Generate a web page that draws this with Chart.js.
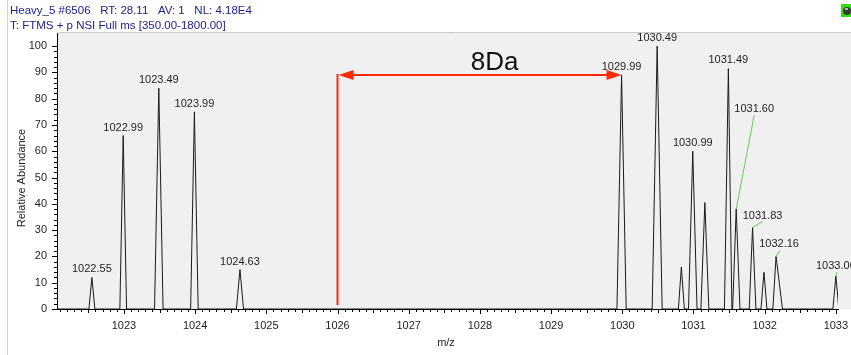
<!DOCTYPE html>
<html>
<head>
<meta charset="utf-8">
<title>Heavy_5 #6506</title>
<script src="https://cdn.jsdelivr.net/npm/chart.js@4.4.1/dist/chart.umd.min.js"></script>
<style>
  html, body { margin: 0; padding: 0; background: #ffffff; }
  canvas { display: block; }
</style>
</head>
<body>
<canvas id="spectrum" width="851" height="355"></canvas>
<script>
// Scan header text
const scanHeader = 'Heavy_5 #6506   RT: 28.11   AV: 1   NL: 4.18E4';
const scanFilter = 'T: FTMS + p NSI Full ms [350.00-1800.00]';

// Centroid of each profile peak (m/z) and its relative abundance (%)
const peakMz        = [1022.55, 1022.99, 1023.49, 1023.99, 1024.63, 1029.99, 1030.49, 1030.83, 1030.99, 1031.16, 1031.49, 1031.60, 1031.83, 1031.99, 1032.16, 1033.00];
const peakAbundance = [12, 66, 84, 75, 15, 89, 100, 16, 60, 40.5, 91.5, 38, 31, 14, 20, 12.5];
// Peak foot on each side of the centroid (m/z)
const peakFootLeft  = [0.042, 0.047, 0.060, 0.053, 0.050, 0.065, 0.070, 0.042, 0.060, 0.056, 0.055, 0.050, 0.047, 0.042, 0.045, 0.042];
const peakFootRight = [0.042, 0.047, 0.060, 0.053, 0.050, 0.065, 0.070, 0.042, 0.060, 0.056, 0.050, 0.053, 0.047, 0.042, 0.090, 0.042];

// Peaks that carry an m/z label
const labelledMz = [1022.55, 1022.99, 1023.49, 1023.99, 1024.63, 1029.99, 1030.49, 1030.99, 1031.49, 1031.60, 1031.83, 1032.16, 1033.00];

// Axes
const mzRange     = [1022.06, 1033.03];
const abundRange  = [0, 105];
const mzTicks     = [1023, 1024, 1025, 1026, 1027, 1028, 1029, 1030, 1031, 1032, 1033];
const abundTicks  = [0, 10, 20, 30, 40, 50, 60, 70, 80, 90, 100];

// Mass shift marker between the light and heavy envelopes
const shiftFromMz = 1026.00;
const shiftToMz   = 1029.99;
const shiftLevel  = 89;
const shiftFloor  = 1.5;
const shiftText   = '8Da';

// Label placement for the crowded peaks (pixel offsets of the label centre) and leader lines
const labelOffsets = {
  '1031.60': { dx: 18, dy: -92, leader: true },
  '1031.83': { dx: 10, dy: -4,  leader: true },
  '1032.16': { dx: 3,  dy: -4,  leader: true },
  '1033.00': { dx: 0,  dy: -2,  leader: true }
};

const FONT = '"Liberation Sans", Arial, sans-serif';
const INK = '#1e1e1e';

// Profile trace: baseline, then foot / apex / foot for every peak
const profile = [{ x: mzRange[0], y: 0 }];
peakMz.forEach((mz, i) => {
  profile.push({ x: mz - peakFootLeft[i], y: 0 });
  profile.push({ x: mz, y: peakAbundance[i] });
  profile.push({ x: mz + peakFootRight[i], y: 0 });
});
profile.push({ x: mzRange[1], y: 0 });

const panelPlugin = {
  id: 'panel',
  beforeDraw(chart) {
    const { ctx, chartArea } = chart;
    ctx.save();
    ctx.fillStyle = '#ffffff';
    ctx.fillRect(0, 0, chart.width, chart.height);
    // plot panel
    ctx.fillStyle = '#f0f0f0';
    ctx.beginPath();
    const l = chartArea.left, t = chartArea.top - 1;
    ctx.moveTo(l, chartArea.bottom);
    ctx.lineTo(l, t + 3);
    ctx.quadraticCurveTo(l, t, l + 3, t);
    ctx.lineTo(chart.width, t);
    ctx.lineTo(chart.width, chartArea.bottom);
    ctx.closePath();
    ctx.fill();
    ctx.strokeStyle = '#cacaca';
    ctx.lineWidth = 1;
    ctx.beginPath();
    ctx.moveTo(l + 0.5, t + 3);
    ctx.quadraticCurveTo(l + 0.5, t + 0.5, l + 3, t + 0.5);
    ctx.lineTo(chart.width, t + 0.5);
    ctx.stroke();
    // window frame on the left
    ctx.strokeStyle = '#d4d4d4';
    ctx.beginPath();
    ctx.moveTo(7.5, 0);
    ctx.lineTo(7.5, chart.height);
    ctx.stroke();
    // header
    ctx.fillStyle = '#22228c';
    ctx.font = '11.5px ' + FONT;
    ctx.textAlign = 'left';
    ctx.textBaseline = 'alphabetic';
    ctx.fillText(scanHeader, 10, 14);
    ctx.fillText(scanFilter, 10, 29);
    // toolbar glyph
    ctx.fillStyle = '#33dd11';
    ctx.fillRect(841, 4, 10, 13);
    ctx.fillStyle = '#3a3a3a';
    ctx.beginPath();
    ctx.arc(847, 11, 4, 0, Math.PI * 2);
    ctx.fill();
    ctx.fillStyle = '#bbbbbb';
    ctx.fillRect(845, 8, 3, 2);
    ctx.restore();
  }
};

const overlayPlugin = {
  id: 'overlay',
  afterDraw(chart) {
    const { ctx, chartArea } = chart;
    const xs = chart.scales.x, ys = chart.scales.y;
    ctx.save();

    // minor and major tick marks
    ctx.strokeStyle = '#000000';
    ctx.lineWidth = 1;
    ctx.beginPath();
    for (let k = Math.ceil(xs.min * 10); k <= Math.floor(xs.max * 10); k++) {
      const px = Math.round(xs.getPixelForValue(k / 10)) + 0.5;
      const len = k % 10 === 0 ? 5 : (k % 5 === 0 ? 4 : 3);
      ctx.moveTo(px, chartArea.bottom);
      ctx.lineTo(px, chartArea.bottom + len);
    }
    for (let v = 0; v <= 100; v += 2) {
      const py = Math.round(ys.getPixelForValue(v)) + 0.5;
      const len = v % 10 === 0 ? 5 : 3;
      ctx.moveTo(chartArea.left, py);
      ctx.lineTo(chartArea.left - len, py);
    }
    ctx.stroke();

    // axis titles
    ctx.fillStyle = INK;
    ctx.font = '11px ' + FONT;
    ctx.textAlign = 'center';
    ctx.textBaseline = 'middle';
    ctx.fillText('m/z', 446, 343);
    ctx.save();
    ctx.translate(22, 178);
    ctx.rotate(-Math.PI / 2);
    ctx.fillText('Relative Abundance', 0, 0);
    ctx.restore();

    // peak labels
    ctx.font = '11px ' + FONT;
    ctx.textBaseline = 'alphabetic';
    labelledMz.forEach(mz => {
      const i = peakMz.indexOf(mz);
      const text = mz.toFixed(2);
      const ax = xs.getPixelForValue(mz);
      const ay = ys.getPixelForValue(peakAbundance[i]);
      const off = labelOffsets[text] || { dx: 0, dy: 0 };
      const lx = ax + off.dx;
      const ly = ay - 5 + off.dy;
      if (off.leader) {
        ctx.strokeStyle = '#66cc55';
        ctx.lineWidth = 1;
        ctx.beginPath();
        ctx.moveTo(ax, ay);
        ctx.lineTo(lx + (off.dx > 5 ? 0 : 1), ly + 3);
        ctx.stroke();
      }
      ctx.fillStyle = INK;
      ctx.fillText(text, lx, ly);
    });

    // mass shift marker
    const x0 = xs.getPixelForValue(shiftFromMz);
    const x1 = xs.getPixelForValue(shiftToMz);
    const yL = ys.getPixelForValue(shiftLevel);
    const yF = ys.getPixelForValue(shiftFloor);
    const red = '#ff2a0a';
    ctx.strokeStyle = red;
    ctx.fillStyle = red;
    ctx.lineWidth = 2;
    ctx.beginPath();
    ctx.moveTo(x0, yF);
    ctx.lineTo(x0, yL - 1);
    ctx.moveTo(x0 + 10, yL);
    ctx.lineTo(x1 - 10, yL);
    ctx.stroke();
    const head = (tipX, dir) => {
      ctx.beginPath();
      ctx.moveTo(tipX, yL);
      ctx.lineTo(tipX - dir * 15, yL - 5);
      ctx.lineTo(tipX - dir * 15, yL + 5);
      ctx.closePath();
      ctx.fill();
    };
    head(x0 + 1, -1);
    head(x1, 1);
    ctx.fillStyle = '#111111';
    ctx.font = '26px ' + FONT;
    ctx.textAlign = 'center';
    ctx.textBaseline = 'alphabetic';
    ctx.fillText(shiftText, (x0 + x1) / 2 + 15, yL - 5);

    ctx.restore();
  }
};

new Chart(document.getElementById('spectrum'), {
  type: 'scatter',
  data: {
    datasets: [{
      data: profile,
      showLine: true,
      borderColor: '#1a1a1a',
      borderWidth: 1,
      pointRadius: 0,
      tension: 0,
      fill: false
    }]
  },
  options: {
    responsive: false,
    animation: false,
    devicePixelRatio: 1,
    layout: { padding: { top: 33, right: 13, left: 0, bottom: 0 } },
    plugins: {
      legend: { display: false },
      tooltip: { enabled: false },
      title: { display: false }
    },
    scales: {
      x: {
        type: 'linear',
        min: mzRange[0],
        max: mzRange[1],
        afterBuildTicks: s => { s.ticks = mzTicks.map(v => ({ value: v })); },
        afterFit: s => { s.height = 46; s.paddingLeft = 0; s.paddingRight = 0; },
        grid: { display: false, drawTicks: false, tickLength: 0 },
        border: { display: true, color: '#000000', width: 1 },
        ticks: {
          autoSkip: false,
          maxRotation: 0,
          padding: 10,
          color: INK,
          font: { family: FONT, size: 11 },
          callback: v => String(v)
        }
      },
      y: {
        type: 'linear',
        min: abundRange[0],
        max: abundRange[1],
        afterBuildTicks: s => { s.ticks = abundTicks.map(v => ({ value: v })); },
        afterFit: s => { s.width = 57; s.paddingTop = 0; s.paddingBottom = 0; },
        grid: { display: false, drawTicks: false, tickLength: 0 },
        border: { display: true, color: '#000000', width: 1 },
        ticks: {
          autoSkip: false,
          padding: 10,
          color: INK,
          font: { family: FONT, size: 11 },
          callback: v => String(v)
        }
      }
    }
  },
  plugins: [panelPlugin, overlayPlugin]
});
</script>
</body>
</html>
